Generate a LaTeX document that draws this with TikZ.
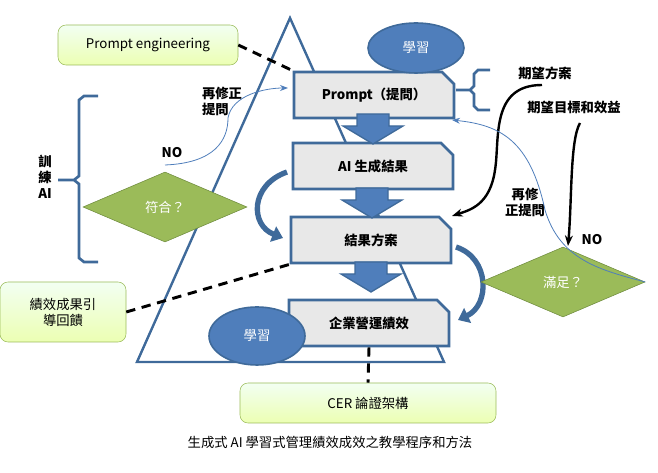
\documentclass[tikz,border=0pt]{standalone}
\usepackage{fontspec}
\setmainfont{Liberation Serif}
\newfontfamily\cjk{Noto Sans CJK TC}
\usetikzlibrary{shapes.geometric,shapes.misc,arrows.meta}
\definecolor{bl}{HTML}{3F6A9A}
\definecolor{blf}{HTML}{4F7EBB}
\definecolor{gr}{HTML}{9BBB59}
\definecolor{grd}{HTML}{6E8B3D}
\tikzset{
 stepbox/.style={draw=bl,line width=2pt,fill=gray!18,minimum width=160*0.75pt,minimum height=46*0.75pt,
   chamfered rectangle,chamfered rectangle corners=north east,chamfered rectangle xsep=6pt,font=\bfseries\cjk\normalsize},
 gbox/.style={draw=gr,rounded corners=6pt,top color=green!5!white,bottom color=green!25!yellow!30,font=\cjk\normalsize},
 dia/.style={diamond,draw=grd,fill=gr,aspect=2.3,minimum width=164*0.75pt,minimum height=70*0.75pt,text=white,font=\cjk\normalsize,inner sep=0pt},
 ell/.style={ellipse,draw=bl,line width=1.2pt,fill=blf,text=white,font=\cjk\normalsize},
 dsh/.style={line width=2.2pt,dash pattern=on 7pt off 5pt},
 barr/.style={draw=bl,line width=1pt,fill=blf},
 lab/.style={font=\bfseries\cjk\normalsize,align=left},
}
\newcommand\blockarr[2]{\draw[barr] (#1-16,#2) -- (#1+16,#2) -- (#1+16,#2+12) -- (#1+30,#2+12) -- (#1,#2+30) -- (#1-30,#2+12) -- (#1-16,#2+12) -- cycle;}
\begin{document}
\begin{tikzpicture}[x=0.75pt,y=-0.75pt]
\useasboundingbox (0,0) rectangle (658,473);
\coordinate (ta) at (290,18); \coordinate (tl) at (137,362); \coordinate (tr) at (444,362);
\draw[bl,line width=1.8pt] (ta)--(tl)--(tr)--cycle;
\node[stepbox] (p) at (374,95) {Prompt（提問）};
\node[stepbox] (a) at (373,166) {AI 生成結果};
\node[stepbox] (r) at (371,240) {結果方案};
\node[stepbox] (e) at (369,323) {企業營運績效};
\blockarr{373}{114}
\blockarr{372}{188}
\blockarr{371}{262}
\node[ell,minimum width=96*0.75pt,minimum height=50*0.75pt] (l1) at (416,48) {學習};
\node[ell,minimum width=96*0.75pt,minimum height=58*0.75pt] (l2) at (257,336) {學習};
\draw[bl,line width=4pt,-{Triangle[length=8pt,width=12pt]}] (287,172) .. controls (250,185) and (250,225) .. (283,238);
\draw[bl,line width=4pt,-{Triangle[length=8pt,width=12pt]}] (456,247) .. controls (490,258) and (490,305) .. (458,320);
\node[dia] (d1) at (165,207) {符合？};
\node[dia] (d2) at (563,282) {滿足？};
\node[gbox,minimum width=180*0.75pt,minimum height=40*0.75pt] (pe) at (148,45) {Prompt engineering};
\node[gbox,minimum width=126*0.75pt,minimum height=60*0.75pt,align=center] (fb) at (63,312) {績效成果引\\導回饋};
\node[gbox,minimum width=256*0.75pt,minimum height=40*0.75pt] (cer) at (368,403) {CER 論證架構};
\draw[dsh] (pe.east) -- (p.north west);
\draw[dsh] (fb.east) -- (r.south west);
\draw[dsh] (e.south) -- (cer.north);
\draw[bl,line width=2pt] (98,96) -- (84,96) -- (79,100) -- (79,176) -- (74,180) -- (58,180) (74,180) -- (79,184) -- (79,258) -- (84,262) -- (98,262);
\node[lab] (tr1) at (45,177) {訓\\練\\AI};
\draw[bl,line width=2pt] (490,70) -- (478,70) -- (474,74) -- (474,86) -- (470,90) -- (456,90) (470,90) -- (474,94) -- (474,106) -- (478,110) -- (490,110);
\node[lab] (q1) at (545,73) {期望方案};
\node[lab] (q2) at (574,107) {期望目標和效益};
\draw[line width=1.8pt,-{Stealth[length=8pt]}] (542,85) .. controls (490,85) and (500,140) .. (495,170) .. controls (490,205) and (470,210) .. (452,216);
\draw[line width=1.8pt,-{Stealth[length=8pt]}] (580,123) .. controls (570,140) and (572,200) .. (568,246);
\node[lab] (no2) at (592,240) {NO};
\node[lab,align=center] (rq2) at (525,202) {再修\\正提問};
\draw[blf,line width=0.6pt,-{Stealth[length=6pt]}] (d2.east) .. controls (600,270) and (560,260) .. (545,210) .. controls (530,140) and (500,125) .. (452,120);
\node[lab] (no1) at (172,153) {NO};
\node[lab,align=left] (rq1) at (222,101) {再修正\\提問};
\draw[blf,line width=0.6pt,-{Stealth[length=6pt]}] (165,165) .. controls (215,163) and (228,140) .. (228,118) .. controls (232,95) and (265,88) .. (288,88);
\node[font=\cjk\normalsize] (cap) at (330,442) {生成式 AI 學習式管理績效成效之教學程序和方法};
\end{tikzpicture}
\end{document}
